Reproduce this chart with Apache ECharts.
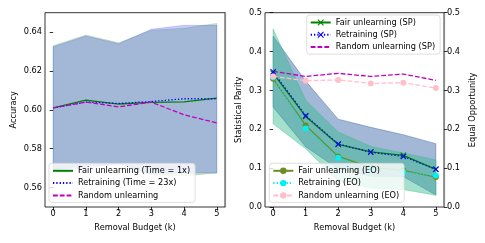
<!DOCTYPE html>
<html>
<head>
<meta charset="utf-8">
<script src="https://cdn.jsdelivr.net/npm/echarts@6/dist/echarts.min.js"></script>
<style>html,body{margin:0;padding:0;background:#fff}#c{width:485px;height:243px}</style>
</head>
<body>
<div id="c"></div>
<script>
// ---- data ----
const budgets = [0, 1, 2, 3, 4, 5];
const xTicks = [0, 1, 2, 3, 4, 5];
const accTicks = [0.56, 0.58, 0.60, 0.62, 0.64];
const fairTicks = [0.0, 0.1, 0.2, 0.3, 0.4, 0.5];

const accFair    = [0.601, 0.605, 0.603, 0.6038, 0.6041, 0.606];
const accRetrain = [0.601, 0.604, 0.6033, 0.6043, 0.6057, 0.6057];
const accRandom  = [0.601, 0.604, 0.6015, 0.604, 0.5974, 0.5933];
const accFairUpper    = [0.633, 0.6385, 0.6345, 0.641, 0.642, 0.6445];
const accFairLower    = [0.569, 0.5715, 0.5715, 0.5665, 0.566, 0.5675];
const accRetrainUpper = [0.6325, 0.638, 0.634, 0.6415, 0.6435, 0.6435];
const accRetrainLower = [0.5695, 0.570, 0.5725, 0.567, 0.5675, 0.5675];

const spFair    = [0.344, 0.233, 0.161, 0.142, 0.133, 0.097];
const spRetrain = [0.348, 0.235, 0.162, 0.141, 0.130, 0.097];
const spRandom  = [0.349, 0.336, 0.344, 0.336, 0.342, 0.326];
const eoFair    = [0.330, 0.210, 0.130, 0.102, 0.094, 0.077];
const eoRetrain = [0.334, 0.202, 0.127, 0.098, 0.090, 0.081];
const eoRandom  = [0.336, 0.325, 0.327, 0.318, 0.320, 0.306];
const spUpper = [0.440, 0.324, 0.226, 0.205, 0.186, 0.163];
const spLower = [0.257, 0.155, 0.098, 0.079, 0.078, 0.031];
const eoUpper = [0.458, 0.275, 0.193, 0.156, 0.139, 0.121];
const eoLower = [0.214, 0.150, 0.067, 0.048, 0.045, 0.030];

// ---- chart ----
const FONT = 'DejaVu Sans';
const FS = 8.2;
const txt = {fontFamily: FONT, fontSize: FS, color: '#000'};
const pair = arr => budgets.map((x, i) => [x, arr[i]]);
const xMark = 'path://M0,1.2L1.2,0L5,3.8L8.8,0L10,1.2L6.2,5L10,8.8L8.8,10L5,6.2L1.2,10L0,8.8L3.8,5Z';

function band(name, xi, yi, lower, upper, color, alpha) {
  return {
    name, type: 'custom', xAxisIndex: xi, yAxisIndex: yi, silent: true, z: 1,
    data: [[budgets[0], lower[0]]],
    renderItem: (params, api) => {
      const pts = [];
      for (let i = 0; i < budgets.length; i++) pts.push(api.coord([budgets[i], upper[i]]));
      for (let i = budgets.length - 1; i >= 0; i--) pts.push(api.coord([budgets[i], lower[i]]));
      return {type: 'polygon', shape: {points: pts},
        style: {fill: color, stroke: color, lineWidth: 0.8, opacity: alpha}};
    }
  };
}
function line(name, xi, yi, arr, color, type, symbol, symColor) {
  return {
    name, type: 'line', xAxisIndex: xi, yAxisIndex: yi, data: pair(arr), z: 3,
    symbol: symbol || 'none', symbolSize: 6, showSymbol: !!symbol,
    lineStyle: {color, width: 1.3, type},
    itemStyle: {color: symColor || color}
  };
}
function xAxis(gi) {
  return {type: 'value', gridIndex: gi, min: -0.25, max: 5.25,
    name: 'Removal Budget (k)', nameLocation: 'middle', nameGap: 17, nameTextStyle: txt,
    axisLine: {show: false}, splitLine: {show: false},
    axisTick: {show: true, length: 3.5, lineStyle: {color: '#000', width: 0.8}, customValues: xTicks},
    axisLabel: {...txt, margin: 3, customValues: xTicks, formatter: v => String(v)}};
}
const legendBase = {orient: 'vertical', itemWidth: 20, itemHeight: 8, itemGap: 4.3,
  backgroundColor: 'rgba(255,255,255,0.8)', borderColor: '#d6d6d6', borderWidth: 0.8, borderRadius: 3,
  padding: [3.5, 5, 3, 3], textStyle: {...txt}};
const noMark = name => ({name, itemStyle: {opacity: 0}});

const option = {
  animation: false,
  backgroundColor: '#fff',
  grid: [
    {left: 45, top: 12.7, width: 180, height: 194.3, show: true, borderColor: '#000', borderWidth: 0.8},
    {left: 265, top: 12.7, width: 179, height: 194.3, show: true, borderColor: '#000', borderWidth: 0.8}
  ],
  xAxis: [xAxis(0), xAxis(1)],
  yAxis: [
    {type: 'value', gridIndex: 0, min: 0.55, max: 0.65, name: 'Accuracy', nameLocation: 'middle', nameGap: 27,
      nameTextStyle: txt, axisLine: {show: false}, splitLine: {show: false},
      axisTick: {show: true, length: 3.5, lineStyle: {color: '#000', width: 0.8}, customValues: accTicks},
      axisLabel: {...txt, margin: 3, customValues: accTicks, formatter: v => v.toFixed(2)}},
    {type: 'value', gridIndex: 0, position: 'right', min: 0.55, max: 0.65,
      axisLine: {show: true, lineStyle: {color: '#8a8a8a', width: 1.2}}, axisTick: {show: false},
      axisLabel: {show: false}, splitLine: {show: false}},
    {type: 'value', gridIndex: 1, min: 0, max: 0.5, interval: 0.1, name: 'Statistical Parity', nameLocation: 'middle',
      nameGap: 22, nameTextStyle: txt, axisLine: {show: false}, splitLine: {show: false},
      axisTick: {show: true, length: 3.5, lineStyle: {color: '#000', width: 0.8}},
      axisLabel: {...txt, margin: 3, formatter: v => v.toFixed(1)}},
    {type: 'value', gridIndex: 1, position: 'right', min: 0, max: 0.5, interval: 0.1, name: 'Equal Opportunity',
      nameLocation: 'middle', nameGap: 25, nameTextStyle: txt, splitLine: {show: false},
      axisLine: {show: true, lineStyle: {color: '#8a8a8a', width: 1.2}},
      axisTick: {show: true, length: 3.5, lineStyle: {color: '#000', width: 0.8}},
      axisLabel: {...txt, margin: 3, formatter: v => v.toFixed(1)}}
  ],
  legend: [
    {...legendBase, left: 49, top: 163.3,
      data: [noMark('Fair unlearning (Time = 1x)'), noMark('Retraining (Time = 23x)'), noMark('Random unlearning')]},
    {...legendBase, left: 306.7, top: 15,
      data: ['Fair unlearning (SP)', 'Retraining (SP)', noMark('Random unlearning (SP)')]},
    {...legendBase, left: 269.3, top: 163.3,
      data: ['Fair unlearning (EO)', 'Retraining (EO)', 'Random unlearning (EO)']}
  ],
  series: [
    band('bandAccFair', 0, 0, accFairLower, accFairUpper, '#008000', 0.2),
    band('bandAccRetrain', 0, 0, accRetrainLower, accRetrainUpper, '#0000ff', 0.2),
    line('Fair unlearning (Time = 1x)', 0, 0, accFair, '#008000', 'solid'),
    line('Retraining (Time = 23x)', 0, 0, accRetrain, '#0000ff', [1.3, 2]),
    line('Random unlearning', 0, 0, accRandom, '#c000c0', [4.8, 2]),

    band('bandSpFair', 1, 2, spLower, spUpper, '#008000', 0.2),
    band('bandSpRetrain', 1, 2, spLower, spUpper, '#0000ff', 0.2),
    band('bandEoFair', 1, 3, eoLower, eoUpper, '#3cb371', 0.28),
    band('bandEoRetrain', 1, 3, eoLower, eoUpper, '#20c0a8', 0.22),
    line('Fair unlearning (SP)', 1, 2, spFair, '#008000', 'solid', xMark),
    line('Retraining (SP)', 1, 2, spRetrain, '#0000ff', [1.3, 2], xMark),
    line('Random unlearning (SP)', 1, 2, spRandom, '#c000c0', [4.8, 2]),
    line('Fair unlearning (EO)', 1, 3, eoFair, '#6b8e23', 'solid', 'circle'),
    line('Retraining (EO)', 1, 3, eoRetrain, '#00e5ee', [1.3, 2], 'circle', '#00f0f5'),
    line('Random unlearning (EO)', 1, 3, eoRandom, '#ffc0cb', [4.8, 2], 'circle')
  ]
};
const chart = echarts.init(document.getElementById('c'), null, {renderer: 'canvas'});
chart.setOption(option);
</script>
</body>
</html>
